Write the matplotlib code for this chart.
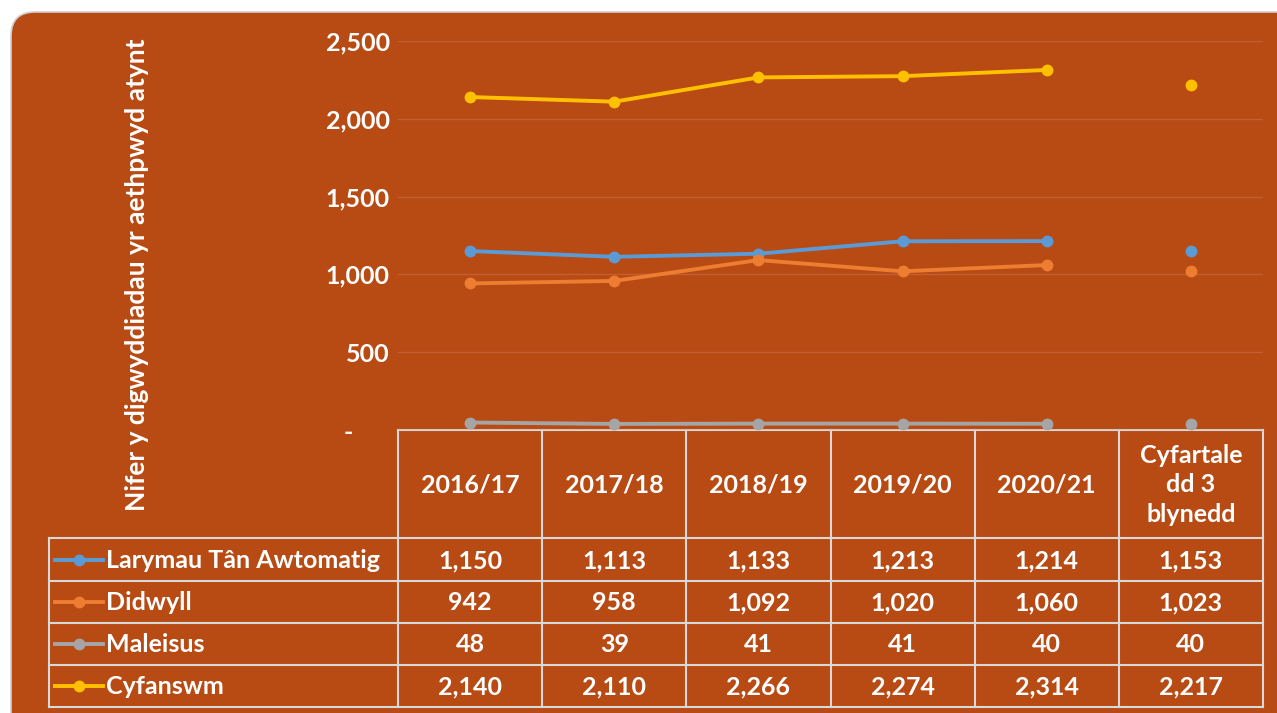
import matplotlib
matplotlib.use("Agg")
import matplotlib.pyplot as plt
from matplotlib.patches import FancyBboxPatch
from matplotlib.lines import Line2D
from matplotlib.ticker import FuncFormatter

plt.rcParams['font.family'] = ['Lato', 'DejaVu Sans']

# ---- data ----
columns = ["2016/17", "2017/18", "2018/19", "2019/20", "2020/21", "Cyfartale\ndd 3\nblynedd"]
series_names = ["Larymau Tân Awtomatig", "Didwyll", "Maleisus", "Cyfanswm"]
larymau = [1150, 1113, 1133, 1213, 1214, 1153]
didwyll = [942, 958, 1092, 1020, 1060, 1023]
maleisus = [48, 39, 41, 41, 40, 40]
cyfanswm = [2140, 2110, 2266, 2274, 2314, 2217]
series_values = [larymau, didwyll, maleisus, cyfanswm]
colors = ["#5B9BD5", "#ED7D31", "#A5A5A5", "#FFC000"]
yticks = [0, 500, 1000, 1500, 2000, 2500]
ylabel = "Nifer y digwyddiadau yr aethpwyd atynt"

BG = "#B84A14"
FS = 18
W, H = 1277, 713
fig = plt.figure(figsize=(W / 100, H / 100), dpi=100)
fig.patch.set_facecolor("white")

# overlay axes in pixel coordinates
ov = fig.add_axes([0, 0, 1, 1])
ov.set_xlim(0, W)
ov.set_ylim(H, 0)
ov.axis("off")
box = FancyBboxPatch((11, 12), 1300, 730, boxstyle="round,pad=0,rounding_size=24",
                     facecolor=BG, edgecolor="#D0D0D0", linewidth=1.2)
ov.add_patch(box)

# main plot axes
left_px, right_px = 398, 1263
top_px, bot_px = 41, 430
ax = fig.add_axes([left_px / W, 1 - bot_px / H, (right_px - left_px) / W, (bot_px - top_px) / H])
ax.set_facecolor("none")
n = len(columns)
x = list(range(n))
ax.set_xlim(-0.5, n - 0.5)
ax.set_ylim(0, 2500)
ax.set_yticks(yticks)
ax.yaxis.set_major_formatter(FuncFormatter(lambda v, p: "-      " if v == 0 else f"{int(v):,}"))
ax.tick_params(axis="y", length=0, pad=6, labelcolor="white", labelsize=FS)
for lbl in ax.get_yticklabels():
    lbl.set_fontweight("bold")
ax.set_xticks([])
for s in ax.spines.values():
    s.set_visible(False)
ax.grid(axis="y", color="#C45F33", linewidth=1)
ax.set_axisbelow(True)

for vals, c in zip(series_values, colors):
    ax.plot(x[:5], vals[:5], color=c, lw=2.8, marker="o", ms=7.5, zorder=3, clip_on=False)
    ax.plot(x[5:], vals[5:], color=c, lw=0, marker="o", ms=7.5, zorder=3, clip_on=False)

# y label
ov.text(137, 275, ylabel, rotation=90, ha="center", va="center", color="white",
        fontsize=19, fontweight="bold")

# table
lc = "#D9D9D9"
col_edges = [left_px + i * (right_px - left_px) / n for i in range(n + 1)]
row_edges = [538, 581, 623, 665, 707]
head_top = 430
leg_left = 49
for xe in col_edges:
    ov.plot([xe, xe], [head_top, row_edges[-1]], color=lc, lw=1.5)
ov.plot([left_px, right_px], [head_top, head_top], color=lc, lw=1.5)
ov.plot([leg_left, leg_left], [row_edges[0], row_edges[-1]], color=lc, lw=1.5)
for ye in row_edges:
    ov.plot([leg_left, right_px], [ye, ye], color=lc, lw=1.5)
for i, col in enumerate(columns):
    cx = (col_edges[i] + col_edges[i + 1]) / 2
    ov.text(cx, (head_top + row_edges[0]) / 2 + 1, col, ha="center", va="center", color="white",
            fontsize=FS, fontweight="bold", linespacing=1.35)
for r, (name, vals, c) in enumerate(zip(series_names, series_values, colors)):
    cy = (row_edges[r] + row_edges[r + 1]) / 2
    ov.add_line(Line2D([55, 103], [cy, cy], color=c, lw=2.8))
    ov.plot([79], [cy], marker="o", color=c, ms=7.5)
    ov.text(106, cy + 1, name, ha="left", va="center", color="white", fontsize=FS, fontweight="bold")
    for i, v in enumerate(vals):
        cx = (col_edges[i] + col_edges[i + 1]) / 2
        ov.text(cx, cy + 1, f"{v:,}", ha="center", va="center", color="white",
                fontsize=FS, fontweight="bold")

fig.savefig("out.png", dpi=100, facecolor="white")
